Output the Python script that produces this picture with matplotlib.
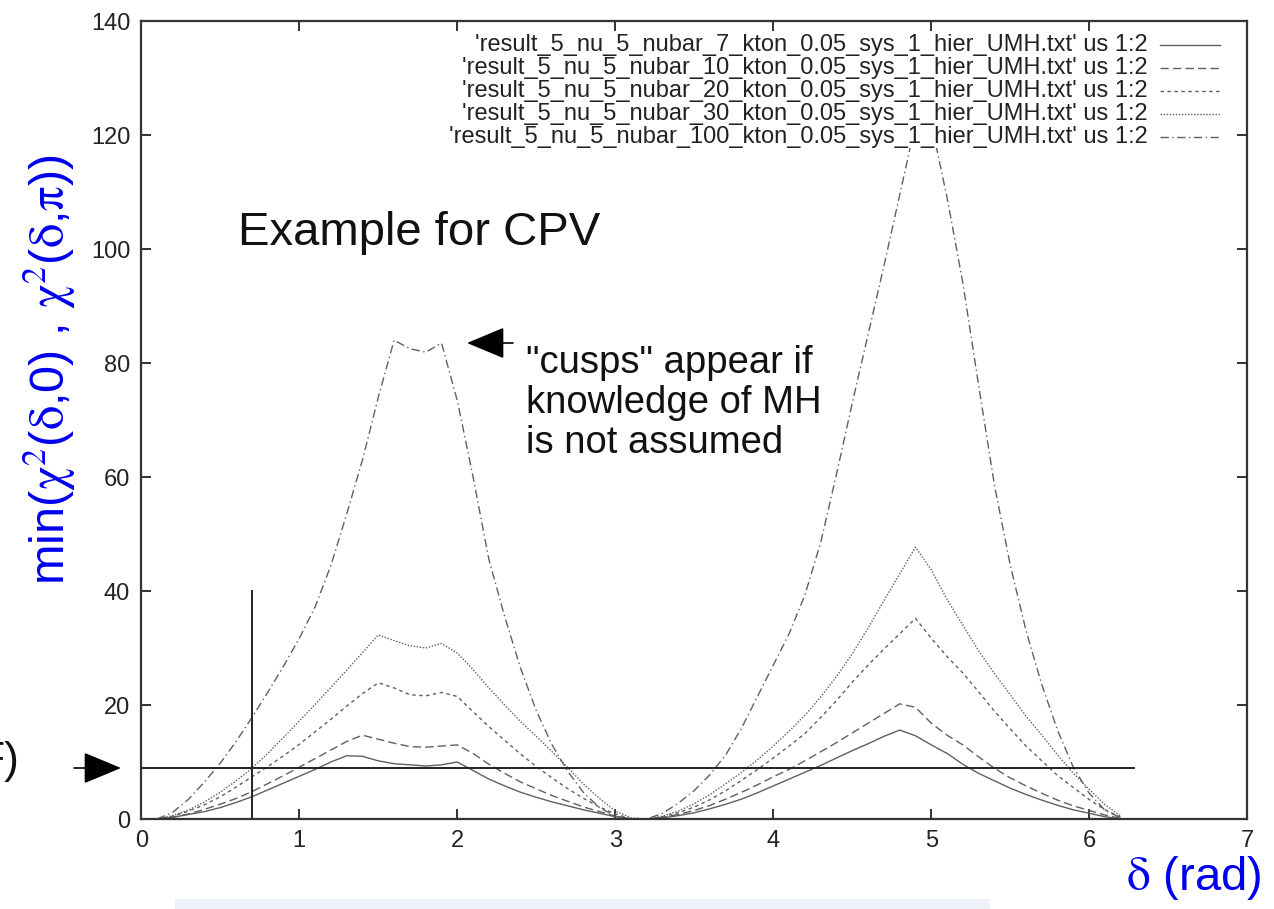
import numpy as np
import matplotlib
matplotlib.use('Agg')
import matplotlib.pyplot as plt
from matplotlib.patches import Rectangle

plt.rcParams['font.family'] = ['Liberation Sans', 'DejaVu Sans']
plt.rcParams['mathtext.fontset'] = 'stix'

# delta grid (rad)
delta = [0.1, 0.2, 0.3, 0.4, 0.5, 0.6, 0.7, 0.8, 0.9, 1.0,
         1.1, 1.2, 1.3, 1.4, 1.5, 1.6, 1.7, 1.8, 1.9, 2.0,
         2.1, 2.2, 2.3, 2.4, 2.5, 2.6, 2.7, 2.8, 2.9, 3.0,
         3.1, 3.2, 3.3, 3.4, 3.5, 3.6, 3.7, 3.8, 3.9, 4.0,
         4.1, 4.2, 4.3, 4.4, 4.5, 4.6, 4.7, 4.8, 4.9, 5.0,
         5.1, 5.2, 5.3, 5.4, 5.5, 5.6, 5.7, 5.8, 5.9, 6.0,
         6.1, 6.2]

chi2_7kton = [0, 0.3, 0.8, 1.3, 2.0, 2.9, 3.9, 5.1, 6.3, 7.5,
              8.7, 10.0, 11.1, 11.0, 10.2, 9.7, 9.5, 9.3, 9.5, 10.0,
              8.5, 7.0, 5.8, 4.7, 3.8, 3.0, 2.3, 1.6, 1.0, 0.4,
              0, 0, 0.2, 0.6, 1.1, 1.8, 2.6, 3.5, 4.6, 5.8,
              7.0, 8.2, 9.4, 10.7, 12.0, 13.2, 14.5, 15.6, 14.6, 13.0,
              11.5, 9.6, 8.0, 6.7, 5.4, 4.3, 3.3, 2.4, 1.6, 1.0,
              0.4, 0]

chi2_10kton = [0, 0.3, 0.9, 1.7, 2.6, 3.6, 4.8, 6.2, 7.6, 9.1,
               10.6, 12.1, 13.6, 14.7, 14.0, 13.3, 12.7, 12.6, 12.8, 13.0,
               11.5, 9.6, 8.0, 6.5, 5.3, 4.1, 3.1, 2.1, 1.3, 0.5,
               0, 0, 0.3, 0.8, 1.5, 2.4, 3.5, 4.7, 6.0, 7.4,
               8.7, 10.2, 11.8, 13.4, 15.1, 16.8, 18.5, 20.2, 19.6, 16.8,
               14.7, 13.0, 10.9, 8.9, 7.2, 5.8, 4.5, 3.3, 2.3, 1.5,
               0.7, 0.1]

chi2_20kton = [0, 0.5, 1.4, 2.5, 3.9, 5.6, 7.4, 9.2, 11.1, 13.1,
               15.3, 17.5, 19.8, 22.0, 23.9, 23.0, 21.8, 21.6, 22.2, 21.5,
               18.8, 16.2, 13.8, 11.4, 9.2, 7.2, 5.3, 3.6, 2.1, 0.9,
               0, 0, 0.4, 1.1, 2.1, 3.4, 5.0, 6.8, 8.7, 10.7,
               12.8, 15.0, 17.8, 20.8, 24.0, 27.0, 29.8, 32.5, 35.2, 31.7,
               28.5, 25.6, 22.3, 18.9, 15.8, 12.8, 10.2, 7.6, 5.5, 3.4,
               1.6, 0.3]

chi2_30kton = [0, 0.6, 1.6, 3.0, 4.7, 6.7, 8.9, 11.5, 14.3, 17.2,
               20.1, 23.1, 26.1, 29.2, 32.3, 31.3, 30.4, 30.0, 30.8, 29.1,
               26.2, 23.0, 20.0, 17.1, 14.5, 11.8, 9.0, 6.1, 3.6, 1.4,
               0.2, 0, 0.5, 1.4, 2.7, 4.3, 6.2, 8.2, 10.4, 12.8,
               15.4, 18.2, 21.4, 25.0, 29.0, 33.5, 38.3, 43.0, 47.7, 43.7,
               38.5, 34.0, 29.5, 25.5, 21.8, 18.0, 14.7, 11.2, 8.0, 5.2,
               2.5, 0.5]

chi2_100kton = [0, 1.2, 3.5, 6.5, 9.8, 13.6, 17.8, 22.2, 26.8, 31.7,
                37.2, 44.5, 53.5, 63.0, 74.0, 84.0, 82.5, 81.9, 83.5, 73.4,
                60.0, 45.5, 35.5, 26.5, 19.0, 13.0, 8.3, 4.6, 2.0, 0.5,
                0, 0, 1.0, 2.8, 5.0, 7.8, 11.3, 16.0, 21.5, 27.0,
                32.5, 39.3, 48.5, 60.5, 73.0, 85.0, 97.0, 109.5, 122.0, 122.0,
                109.0, 94.0, 76.0, 58.5, 44.5, 33.0, 23.5, 15.5, 9.0, 4.5,
                1.5, 0.2]

labels = ["'result_5_nu_5_nubar_7_kton_0.05_sys_1_hier_UMH.txt' us 1:2",
          "'result_5_nu_5_nubar_10_kton_0.05_sys_1_hier_UMH.txt' us 1:2",
          "'result_5_nu_5_nubar_20_kton_0.05_sys_1_hier_UMH.txt' us 1:2",
          "'result_5_nu_5_nubar_30_kton_0.05_sys_1_hier_UMH.txt' us 1:2",
          "'result_5_nu_5_nubar_100_kton_0.05_sys_1_hier_UMH.txt' us 1:2"]

series = [chi2_7kton, chi2_10kton, chi2_20kton, chi2_30kton, chi2_100kton]
styles = ['-', (0, (6, 3)), (0, (2.5, 2.5)), (0, (1, 1.2)), (0, (6, 2.5, 1, 2.5))]

cut_level = 9.0      # horizontal reference line
delta_mark = 0.7     # vertical marker

W, H = 1274, 909
fig = plt.figure(figsize=(W / 100, H / 100), dpi=100)

# faint slide decoration along the bottom edge
fig.patches.append(Rectangle((175 / W, 0), 815 / W, 10 / H, transform=fig.transFigure,
                             facecolor='#eef2f8', edgecolor='none', zorder=0))

ax = fig.add_axes([141.3 / W, 1 - 819 / H, 1106 / W, 798 / H])

gray = '#606060'
for y, ls in zip(series, styles):
    ax.plot(delta, y, color=gray, lw=1.0, linestyle=ls)

ax.plot([0, 2 * np.pi], [cut_level, cut_level], color='#222222', lw=1.4)
ax.plot([delta_mark, delta_mark], [0, 40], color='#222222', lw=1.4)

ax.set_xlim(0, 7)
ax.set_ylim(0, 140)
ax.set_xticks(range(0, 8))
ax.set_yticks(range(0, 141, 20))
ax.tick_params(direction='in', length=7, width=1.3, top=True, right=True,
               labelsize=17, pad=8, colors='#222222')
for sp in ax.spines.values():
    sp.set_linewidth(1.6)
    sp.set_color('#333333')

# gnuplot-style key: text right aligned, sample on the right
key_y = [0.970, 0.941, 0.912, 0.883, 0.855]
for lab, ls, ky in zip(labels, styles, key_y):
    ax.text(0.910, ky, lab, transform=ax.transAxes, ha='right', va='center',
            fontsize=17, color='#222222',
            bbox=dict(facecolor='white', edgecolor='none', pad=0.5), zorder=5)
    ax.plot([0.921, 0.975], [ky, ky], transform=ax.transAxes, color=gray,
            lw=1.0, linestyle=ls, zorder=5)

# annotations
fig.text(238 / W, 1 - 233 / H, 'Example for CPV', fontsize=34,
         ha='left', va='center', color='#111111')
fig.text(526 / W, 1 - 403 / H, '"cusps" appear if\nknowledge of MH\nis not assumed',
         fontsize=27.5, ha='left', va='center', linespacing=1.15, color='#111111')
fig.text(19 / W, 1 - 762 / H, 'F)', fontsize=32, ha='right', va='center',
         color='#111111')

arrow = dict(arrowstyle='-|>,head_length=1.2,head_width=0.5', lw=1.2,
             color='black', shrinkA=0, shrinkB=0, mutation_scale=20)
ax.annotate('', xy=(121, H - 768), xytext=(74, H - 768), xycoords='figure pixels',
            textcoords='figure pixels', arrowprops=arrow, annotation_clip=False)
ax.annotate('', xy=(467, H - 343), xytext=(513, H - 343), xycoords='figure pixels',
            textcoords='figure pixels', arrowprops=arrow, annotation_clip=False)

# axis titles in blue
fig.text(50 / W, 1 - 370 / H,
         r'min($\mathrm{\chi}^2$($\mathrm{\delta}$,0) , $\mathrm{\chi}^2$($\mathrm{\delta}$,$\mathrm{\pi}$))',
         fontsize=35, rotation=90, ha='center', va='center', color='#0000ee')
fig.text(1262 / W, 1 - 878 / H, r'$\mathrm{\delta}$ (rad)', fontsize=34,
         ha='right', va='center', color='#0000ee')

fig.savefig('out.png', dpi=100)
